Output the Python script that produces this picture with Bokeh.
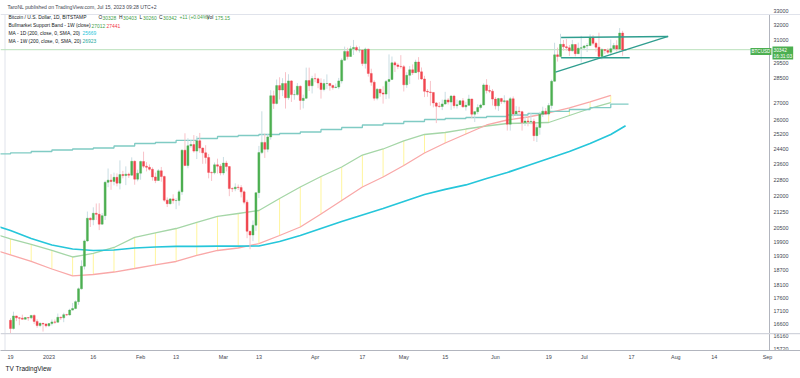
import math
from bokeh.plotting import figure
from bokeh.models import Range1d, FixedTicker, Label, Span, Title, ColumnDataSource
from bokeh.embed import file_html
from bokeh.resources import INLINE
from bokeh.core.properties import value

# ---------------- data ----------------
# day index 0 = 2022-12-19 ... 208 = 2023-07-15 (BTC/USD, Bitstamp, 1D)
opens = [
    16740,16440,16900,16830,16820,16780,16840,16830,16920,16700,16550,16630,16600,
    16540,16620,16680,16670,16850,16830,16950,16940,17120,17180,17440,17940,18850,19930,20950,20880,
    21180,21130,20680,21070,22670,22780,22710,22920,22630,23060,23010,23080,23030,23740,22830,
    23130,23730,23490,23430,23330,22940,22760,23250,22960,21800,21630,21860,21780,21780,22200,24330,
    23520,24570,24630,24280,24840,24440,24190,23940,23170,23150,23560,23490,
    23140,23650,23470,22360,22350,22430,22410,22200,21700,20360,20190,20630,22160,24200,24750,24380,
    25050,27420,26960,28040,27770,28170,27300,28330,27490,27490,28000,27140,27270,28350,28030,
    28480,28460,28200,27800,28170,28170,28040,27920,27950,28330,29650,30230,29890,30400,30490,30320,
    30320,29430,30380,28800,28250,27270,27820,27590,27520,28300,28420,29480,29340,29250,
    29230,28090,28680,29030,28850,29530,28900,28450,27690,27650,27620,26990,26800,26780,26930,27170,
    27040,27400,26830,26890,27120,26760,26850,27230,26330,26480,26720,26870,28080,27740,27700,
    27220,26820,27250,27070,27120,25760,27240,26350,26500,26480,25850,25940,25900,25920,25120,25580,
    26330,26510,26340,26840,28310,30000,29890,30700,30540,30470,30270,30690,30080,30440,
    30470,30590,30620,31160,30770,30510,29900,30350,30290,30170,30410,30620,30390,31470,30328,
]
highs = [
    16820,17060,16910,16860,16950,16860,16860,16940,16960,16780,16660,16640,16640,
    16630,16770,16770,16990,16880,17020,16980,17170,17390,17490,17990,19100,19990,21260,20990,21460,
    21640,21650,21190,22750,23370,23080,23160,23120,23790,23250,23480,23160,23950,23790,23310,
    23780,24250,23700,23580,23430,23160,23340,23450,23010,21930,21900,22080,21890,22300,24370,25250,
    24980,24880,25150,25100,25270,24480,24600,24130,23210,23680,23880,23600,
    23970,23770,23480,22420,22620,22560,22530,22270,21820,20370,20850,22160,24560,26500,25230,25200,
    27760,27730,28420,28560,28500,28880,28750,28380,27780,28200,28050,27490,29170,29170,28650,
    28800,28530,28490,28440,28740,28190,28100,28170,28520,29770,30550,30470,30600,31000,30620,30560,
    30320,30480,30410,29100,28370,27880,27830,28000,28390,30030,29890,29590,29450,29980,
    29340,28880,29270,29380,29680,29850,29180,28650,27830,28330,27640,27050,27040,27190,27660,27280,
    27470,27480,27190,27150,27280,27060,27480,27230,26520,26910,26950,28180,28440,28050,27830,
    27350,27300,27300,27450,27130,27350,27380,26800,26770,26530,26200,26100,26400,26080,25750,26470,
    26770,26690,26980,28410,30810,30480,31420,31000,31060,30660,31000,30710,30820,31280,
    30660,30780,31380,31330,30880,31500,30450,30380,30440,31030,30800,30980,31820,31630,30403,
]
lows = [
    16270,16400,16710,16560,16770,16770,16720,16780,16600,16470,16490,16330,16480,
    16500,16550,16610,16660,16750,16670,16900,16910,17100,17150,17320,17910,18720,19890,20550,20630,
    20870,20410,20660,20870,22430,22300,22520,22470,22320,22870,22530,22890,23000,22550,22720,
    22800,23390,23220,23260,22750,22630,22750,22700,21720,21470,21590,21630,21370,21540,22050,23510,
    23380,24460,24200,23860,24190,23610,23620,22870,22740,23070,23110,23020,
    23030,23220,21990,22190,22230,22290,21930,21600,20050,19570,19920,20370,21900,24120,23920,24220,
    24900,26640,26900,27200,27400,26660,27180,27050,27180,27430,26590,26670,27220,27710,27560,
    28250,27880,27250,27690,27840,27730,27790,27880,27820,28170,29620,29700,29880,29990,30230,30150,
    29270,29110,28600,28030,27130,27150,27360,26950,27220,27250,28380,28890,29070,29110,
    27680,27900,28140,28700,28830,28410,28400,27340,27360,26830,26730,25820,26710,26570,26880,26900,
    26580,26670,26660,26870,26720,26540,26830,26100,25880,26330,26600,26850,27560,27580,26840,
    26610,26520,26930,26960,25400,25400,26130,26240,26280,25400,25660,25640,25750,24820,24770,25170,
    26170,26280,26250,26650,28280,29560,29820,30270,30280,29930,30220,29900,30050,29500,
    30330,30190,30590,30640,30210,29850,29700,30060,30060,29960,30300,30220,30270,29940,30260,
]
closes = [
    16440,16900,16830,16820,16780,16840,16830,16920,16700,16550,16630,16600,16540,
    16620,16680,16670,16850,16830,16950,16940,17120,17180,17440,17940,18850,19930,20950,20880,21180,
    21130,20680,21070,22670,22780,22710,22920,22630,23060,23010,23080,23030,23740,22830,23130,
    23730,23490,23430,23330,22940,22760,23250,22960,21800,21630,21860,21780,21780,22200,24330,23520,
    24570,24630,24280,24840,24440,24190,23940,23170,23150,23560,23490,23140,
    23650,23470,22360,22350,22430,22410,22200,21700,20360,20190,20630,22160,24200,24750,24380,25050,
    27420,26960,28040,27770,28170,27300,28330,27490,27490,28000,27140,27270,28350,28030,28480,
    28460,28200,27800,28170,28170,28040,27920,27950,28330,29650,30230,29890,30400,30490,30320,30320,
    29430,30380,28800,28250,27270,27820,27590,27520,28300,28420,29480,29340,29250,29230,
    28090,28680,29030,28850,29530,28900,28450,27690,27650,27620,26990,26800,26780,26930,27170,27040,
    27400,26830,26890,27120,26760,26850,27230,26330,26480,26720,26870,28080,27740,27700,27220,
    26820,27250,27070,27120,25760,27240,26350,26500,26480,25850,25940,25900,25920,25120,25580,26330,
    26510,26340,26840,28310,30000,29890,30700,30540,30470,30270,30690,30080,30440,30470,
    30590,30620,31160,30770,30510,29900,30350,30290,30170,30410,30620,30390,31470,30330,30342,
]

# weekly points (Mondays), day index -7 ... 203
week_days = [-7, 0, 7, 14, 21, 28, 35, 42, 49, 56, 63, 70, 77, 84, 91, 98, 105, 112, 119, 126,
             133, 140, 147, 154, 161, 168, 175, 182, 189, 196, 203]
bsb_sma20w = [20304, 20016, 19776, 19516, 19239, 19389, 19645, 20083, 20282, 20482, 20755, 21031,
              21169, 21309, 21878, 22437, 22961, 23446, 24073, 24393, 24829, 25183, 25294, 25488,
              25657, 25799, 25828, 25856, 26257, 26664, 27012]
bsb_ema21w = [19602, 19325, 19050, 18738, 18455, 18513, 18614, 18758, 18905, 19050, 19303, 19516,
              19623, 19817, 20170, 20550, 21145, 21782, 22437, 22937, 23523, 24181, 24718, 25210,
              25715, 25998, 26170, 26402, 26694, 27050, 27441]
ma200w = [24128, 24181, 24259, 24339, 24393, 24447, 24554, 24690, 24745, 24855, 24963, 25073,
          25128, 25183, 25239, 25322, 25461, 25573, 25715, 25799, 25913, 26027, 26084, 26141,
          26199, 26286, 26373, 26490, 26606, 26720, 26923]
ma200w_end_day = 209

ma200d_days = [-4, 0, 7, 14, 21, 28, 35, 42, 49, 56, 63, 70, 77, 84, 91, 98, 105, 112, 119, 126,
               133, 140, 147, 154, 161, 168, 175, 182, 189, 196, 203, 208]
ma200d = [20560, 20393, 20038, 19754, 19580, 19516, 19537, 19623, 19666, 19690, 19695, 19700,
          19705, 19710, 19906, 20170, 20482, 20800, 21101, 21403, 21735, 22073, 22318, 22540,
          22862, 23166, 23523, 23889, 24259, 24690, 25183, 25669]

# ascending-triangle drawing (day index, price)
tri_top_x, tri_top_y = [186.2, 222.4], [31170, 31240]
tri_bot_x, tri_bot_y = [186.2, 209.4], [29808, 29808]
tri_rise_x, tri_rise_y = [184.3, 222.4], [28880, 31240]

last_price = 30342
rule_price = 16260

x_tick_days = [0, 13, 28, 44, 56, 72, 84, 103, 119, 133, 147, 164, 182, 194, 210, 225, 238, 256]
x_tick_labels = ["19", "2023", "16", "Feb", "13", "Mar", "13", "Apr", "17", "May", "15", "Jun",
                 "19", "Jul", "17", "Aug", "14", "Sep"]
y_ticks = [33000, 32000, 31000, 29500, 28500, 27000, 26000, 25200, 24400, 23600, 22800, 22000,
           21250, 20500, 19900, 19300, 18700, 18100, 17600, 17100, 16600, 16160, 15720]

# ---------------- figure ----------------
X0, X1 = -3.382, 267.16          # frame covers the whole width
Y_TOP, Y_BOT = 33807, 15665      # log price range of the frame
AXIS_D = 256.68                  # position of the price-scale border
FH = 350                         # frame height in px

p = figure(width=800, height=378, x_range=Range1d(X0, X1), y_range=Range1d(Y_BOT, Y_TOP),
           y_axis_type="log", y_axis_location=None, output_backend="svg", toolbar_location=None,
           min_border_left=0, min_border_right=0, min_border_top=0, min_border_bottom=28,
           outline_line_color=None, background_fill_color="white", border_fill_color="white")
p.grid.visible = False

FONT = "Liberation Sans"
ax = p.xaxis[0]
ax.axis_line_color = "#b2b5be"
ax.major_tick_line_color = None
ax.minor_tick_line_color = None
ax.major_tick_out = 0
ax.major_tick_in = 0
ax.major_label_text_font = FONT
ax.major_label_text_font_size = "5.4px"
ax.major_label_text_color = "#434651"
ax.major_label_standoff = 3
ax.ticker = FixedTicker(ticks=x_tick_days)
ax.major_label_overrides = dict(zip(x_tick_days, x_tick_labels))

p.add_layout(Title(text="TV TradingView", align="left", offset=5, text_font=FONT,
                   text_font_size="6.5px", text_font_style="normal", text_color="#131722",
                   standoff=1), "below")


def price_at_px(y):
    # price at y px below the frame top
    return math.exp(math.log(Y_TOP) - y / FH * math.log(Y_TOP / Y_BOT))


# pane borders
p.add_layout(Span(location=price_at_px(14), dimension="width", line_color="#e0e3eb", line_width=1))
p.add_layout(Span(location=rule_price, dimension="width", line_color="#d1d4dc", line_width=1.2))
p.segment(x0=[AXIS_D], y0=[price_at_px(14)], x1=[AXIS_D], y1=[Y_BOT], line_color="#b2b5be", line_width=1)
p.segment(x0=[-1.86], y0=[price_at_px(14)], x1=[-1.86], y1=[Y_BOT], line_color="#e0e3eb", line_width=1)

# last-price line
p.segment(x0=[X0], y0=[last_price], x1=[AXIS_D], y1=[last_price], line_color="#b9e0bb", line_width=1)

# bull market support band fill (vertical strokes at weekly points)
p.segment(x0=week_days, y0=bsb_sma20w, x1=week_days, y1=bsb_ema21w, line_color="#fff59d", line_width=1)
p.line(week_days, bsb_sma20w, line_color="#a5d6a7", line_width=1.3)
p.line(week_days, bsb_ema21w, line_color="#f9a8a8", line_width=1.3)

# 200W MA (step)
p.step(week_days + [ma200w_end_day], ma200w + [ma200w[-1]], mode="after", line_color="#80cbc4", line_width=1.3)
# 200D MA
p.line(ma200d_days, ma200d, line_color="#26c6da", line_width=1.7)

# candles
days = list(range(len(closes)))
up = [c >= o for o, c in zip(opens, closes)]
src = ColumnDataSource(dict(
    x=days, o=opens, h=highs, l=lows, c=closes,
    top=[max(o, c) for o, c in zip(opens, closes)],
    bot=[min(o, c) for o, c in zip(opens, closes)],
    body=["#4caf50" if u else "#f0454f" for u in up],
    wick=["#c9dde3" if u else "#f8c2c8" for u in up],
))
p.segment(x0="x", y0="l", x1="x", y1="h", line_color="wick", line_width=1, source=src)
p.vbar(x="x", width=0.68, top="top", bottom="bot", fill_color="body", line_color="body",
       line_width=0.4, source=src)

# triangle drawing
for xs, ys in ((tri_top_x, tri_top_y), (tri_bot_x, tri_bot_y), (tri_rise_x, tri_rise_y)):
    p.line(xs, ys, line_color="#2f9e8f", line_width=1.4)

# price scale labels (right)
p.text(x=[258.0] * len(y_ticks), y=y_ticks, text=[str(t) for t in y_ticks],
       text_font=value(FONT), text_font_size="5.4px", text_color="#434651",
       text_baseline="middle", text_align="left")

# ---------------- texts ----------------
def lab(x, y, t, color="#131722", size="4.9px", **kw):
    # x, y: px from the frame's bottom-left corner
    p.add_layout(Label(x=x, y=y, x_units="screen", y_units="screen", text=t, text_color=color,
                       text_font=FONT, text_font_size=size, text_baseline="middle", **kw))

G, R = "#43a047", "#f23645"
lab(7, FH - 6.5, "TaroNL published on TradingView.com, Jul 15, 2023 09:28 UTC+2", color="#434651", size="5.1px")
r1, r2, r3, r4 = FH - 17.3, FH - 25, FH - 32.7, FH - 40.7
lab(8, r1, "Bitcoin / U.S. Dollar, 1D, BITSTAMP")
lab(98, r1, "O"); lab(102, r1, "30328", G)
lab(118.5, r1, "H"); lab(122.5, r1, "30403", G)
lab(139, r1, "L"); lab(142.5, r1, "30260", G)
lab(158.5, r1, "C"); lab(162.5, r1, "30342", G)
lab(179, r1, "+11 (+0.04%)", G)
lab(206, r1, "Vol"); lab(214.5, r1, "175.15", G)
lab(8, r2, "Bullmarket Support Band - 1W (close)")
lab(91, r2, "27012", G); lab(106, r2, "27441", R)
lab(8, r3, "MA - 1D (200, close, 0, SMA, 20)")
lab(82, r3, "25669", "#26c6da")
lab(8, r4, "MA - 1W (200, close, 0, SMA, 20)")
lab(82, r4, "26923", "#26a69a")

# price tags
lab(750, FH - 51, "BTCUSD", "white", size="4.6px", background_fill_color="#4caf50", padding=1)
lab(772, FH - 52.5, "30342\n16:31:03", "white", size="4.8px", background_fill_color="#4caf50", padding=1)

open("out.html", "w").write(file_html(p, INLINE))
